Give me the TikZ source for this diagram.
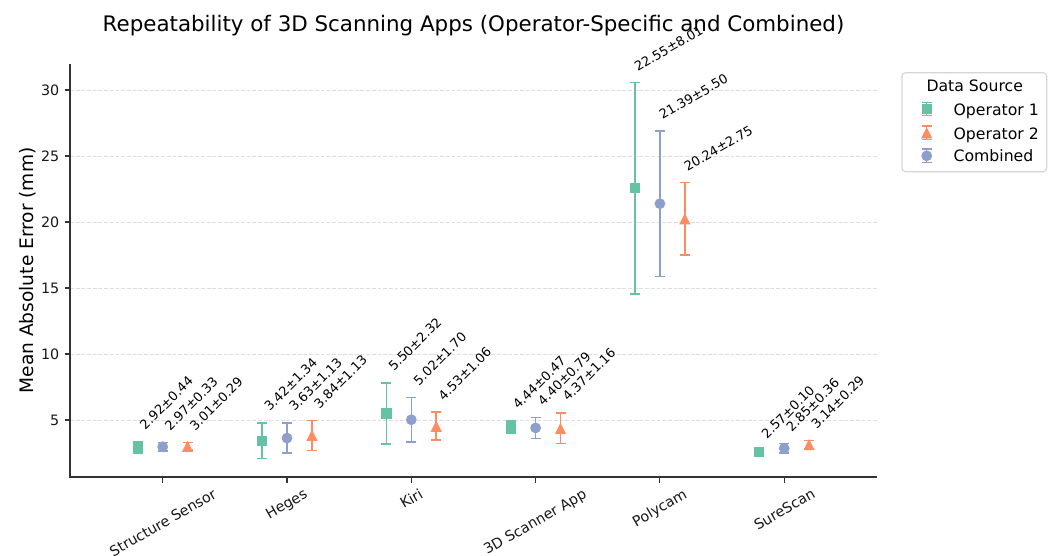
\documentclass[tikz,border=0pt]{standalone}
\usepackage{fontspec}
\setmainfont{DejaVu Sans}
\usetikzlibrary{calc}
\definecolor{cgreen}{HTML}{66C2A5}
\definecolor{corange}{HTML}{FC8D62}
\definecolor{cblue}{HTML}{8DA0CB}
\definecolor{spinec}{HTML}{333333}
\definecolor{gridc}{HTML}{DEDEDE}
\definecolor{legc}{HTML}{D6D6D6}
\tikzset{
  gridline/.style={draw=gridc, line width=0.7pt, dash pattern=on 2.8pt off 1.3pt},
  spineline/.style={draw=spinec, line width=0.85pt, line join=miter},
  tickmark/.style={draw=spinec, line width=0.85pt},
  errbar/.style={line width=1.05pt},
  ticklab/.style={font=\fontsize{10.3}{12}\selectfont, inner sep=0pt, text=black!90},
  annot/.style={font=\fontsize{9.3}{11}\selectfont, inner sep=0pt, anchor=base west},
  legtext/.style={font=\fontsize{11.3}{13}\selectfont, inner sep=0pt, anchor=base west},
}
\newcommand\mksq[2]{\fill[#2] ($(#1)+(-3.7pt,-3.7pt)$) rectangle ($(#1)+(3.7pt,3.7pt)$);}
\newcommand\mkci[2]{\fill[#2] (#1) circle[radius=3.9pt];}
\newcommand\mktr[2]{\fill[#2] ($(#1)+(0,4pt)$) -- ($(#1)+(-4pt,-4pt)$) -- ($(#1)+(4pt,-4pt)$) -- cycle;}
% #1 name, #2 x(px), #3 mean, #4 std, #5 colour, #6 marker, #7 label angle, #8 label dx
\newcommand\datapt[8]{%
  \pgfmathsetmacro\yt{486-13.2*(#3+#4)}%
  \pgfmathsetmacro\yb{486-13.2*(#3-#4)}%
  \pgfmathsetmacro\ym{486-13.2*#3}%
  \draw[errbar,#5] (#2,\yt) -- (#2,\yb);
  \draw[errbar,#5] (#2-5,\yt) -- (#2+5,\yt);
  \draw[errbar,#5] (#2-5,\yb) -- (#2+5,\yb);
  \coordinate (#1) at (#2,\ym);
  #6{#1}{#5}
  \node[annot, rotate=#7] (#1-l) at (#2+#8,\yt-11) {#3±#4};
}
% #1 name, #2 x(px), #3 shift (pt) of the top corner from the centre, #4 text
\newcommand\xlab[4]{%
  \node[ticklab, rotate=30, anchor=north east] (#1) at ($(#2,487.5)+(#3pt,0pt)$) {#4};
}
% legend icon: #1 name, #2 y centre, #3 colour, #4 marker
\newcommand\legicon[4]{%
  \draw[errbar,#3] (926.7,#2-6.7) -- (926.7,#2+6.7);
  \draw[errbar,#3] (921.7,#2-6.7) -- (931.7,#2-6.7);
  \draw[errbar,#3] (921.7,#2+6.7) -- (931.7,#2+6.7);
  \coordinate (#1) at (926.7,#2);
  #4{#1}{#3}
}
\begin{document}
\begin{tikzpicture}[x=0.72pt, y=-0.72pt]
\fill[white] (0,0) rectangle (1056,555);
\useasboundingbox (0,0) rectangle (1056,555);
% title
\node[font=\fontsize{15.4}{18}\selectfont, anchor=base, inner sep=0pt] (title) at (473.5,31.7)
  {Repeatability of 3D Scanning Apps (Operator-Specific and Combined)};
% grid
\foreach \v in {5,10,...,30} \draw[gridline] (70,{486-13.2*\v}) -- (877,{486-13.2*\v});
% spines
\draw[spineline] (70,64) -- (70,477) -- (877,477);
% y ticks
\foreach \v in {5,10,...,30} {
  \draw[tickmark] (64.5,{486-13.2*\v}) -- (70,{486-13.2*\v});
  \node[ticklab, anchor=east] (yt\v) at (59.5,{486-13.2*\v}) {\v};
}
% x ticks
\foreach \i in {0,...,5} \draw[tickmark] ({162.7+124.3*\i},477) -- ({162.7+124.3*\i},482.5);
\xlab{xl0}{162.7}{35.6}{Structure Sensor}
\xlab{xl1}{287.0}{11.6}{Heges}
\xlab{xl2}{411.3}{5.3}{Kiri}
\xlab{xl3}{535.6}{33.6}{3D Scanner App}
\xlab{xl4}{659.9}{16.3}{Polycam}
\xlab{xl5}{784.2}{19.2}{SureScan}
% y label
\node[font=\fontsize{13.4}{16}\selectfont, rotate=90, anchor=base, inner sep=0pt] (ylab) at (33.3,270.5)
  {Mean Absolute Error (mm)};
% data
\datapt{a1}{137.8}{2.92}{0.44}{cgreen}{\mksq}{45}{7.5}
\datapt{a3}{187.6}{3.01}{0.29}{corange}{\mktr}{45}{7.5}
\datapt{a2}{162.7}{2.97}{0.33}{cblue}{\mkci}{45}{7.5}
\datapt{b1}{262.1}{3.42}{1.34}{cgreen}{\mksq}{45}{7.5}
\datapt{b3}{311.9}{3.84}{1.13}{corange}{\mktr}{45}{7.5}
\datapt{b2}{287.0}{3.63}{1.13}{cblue}{\mkci}{45}{7.5}
\datapt{c1}{386.4}{5.50}{2.32}{cgreen}{\mksq}{45}{7.5}
\datapt{c3}{436.2}{4.53}{1.06}{corange}{\mktr}{45}{7.5}
\datapt{c2}{411.3}{5.02}{1.70}{cblue}{\mkci}{45}{7.5}
\datapt{d1}{510.7}{4.44}{0.47}{cgreen}{\mksq}{45}{7.5}
\datapt{d3}{560.5}{4.37}{1.16}{corange}{\mktr}{45}{7.5}
\datapt{d2}{535.6}{4.40}{0.79}{cblue}{\mkci}{45}{7.5}
\datapt{e1}{635.0}{22.55}{8.01}{cgreen}{\mksq}{30}{2.5}
\datapt{e3}{684.8}{20.24}{2.75}{corange}{\mktr}{30}{2.5}
\datapt{e2}{659.9}{21.39}{5.50}{cblue}{\mkci}{30}{2.5}
\datapt{f1}{759.3}{2.57}{0.10}{cgreen}{\mksq}{45}{7.5}
\datapt{f3}{809.1}{3.14}{0.29}{corange}{\mktr}{45}{7.5}
\datapt{f2}{784.2}{2.85}{0.36}{cblue}{\mkci}{45}{7.5}
% legend
\draw[legc, fill=white, line width=0.8pt, rounded corners=2.5pt] (902,72.7) rectangle (1046.7,171.7);
\node[font=\fontsize{11.3}{13}\selectfont, anchor=base, inner sep=0pt] (legtitle) at (974.7,91.7) {Data Source};
\legicon{li1}{109.0}{cgreen}{\mksq}
\legicon{li2}{132.8}{corange}{\mktr}
\legicon{li3}{155.8}{cblue}{\mkci}
\node[legtext] (lt1) at (953.3,115) {Operator 1};
\node[legtext] (lt2) at (953.3,139) {Operator 2};
\node[legtext] (lt3) at (953.3,161.7) {Combined};
\end{tikzpicture}
\end{document}
